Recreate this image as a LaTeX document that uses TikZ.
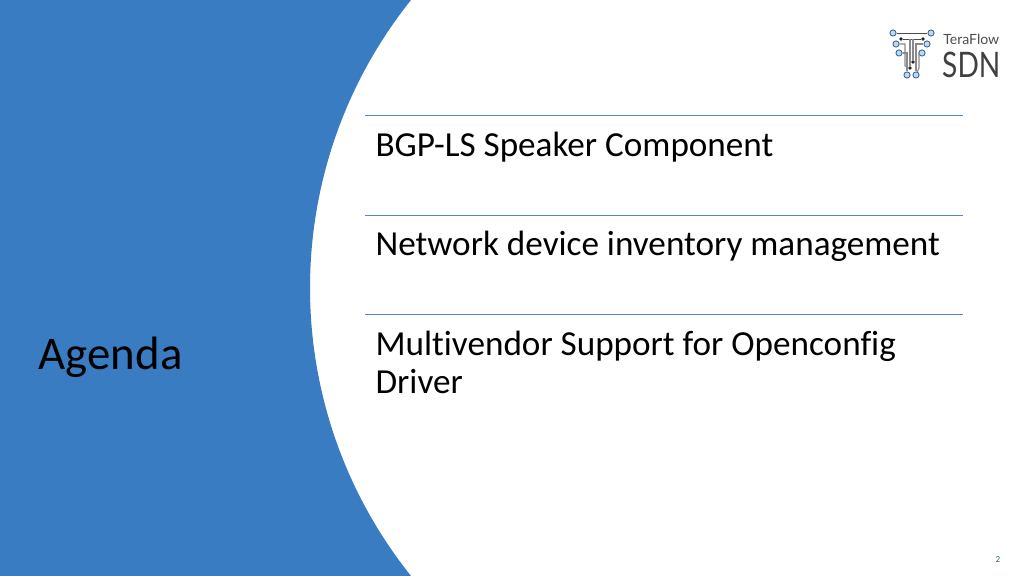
\documentclass[tikz,border=0pt]{standalone}
\usepackage{fontspec}
\setmainfont[Ligatures=CommonOff]{Carlito}
\newfontfamily\logofont{Lato}
\definecolor{slideblue}{HTML}{3A7CC1}
\definecolor{rulegrey}{HTML}{8A8A8A}
\tikzset{
	item/.style={anchor=north west, inner sep=0pt, align=left, text=black, font=\fontsize{25}{27}\selectfont},
	sep/.style={draw=slideblue!90, line width=0.7pt},
	pad/.style={circle, draw=slideblue!80!black, fill=slideblue!30, line width=0.6pt, minimum size=4.4pt, inner sep=0pt},
	via/.style={circle, fill=black!85, minimum size=2.8pt, inner sep=0pt},
	trace/.style={draw=rulegrey, line width=0.8pt},
	thin trace/.style={draw=black!70, line width=0.6pt},
}
\begin{document}
\begin{tikzpicture}[x=0.025cm, y=-0.025cm]
	\useasboundingbox (0,0) rectangle (1024,576);
	\fill[slideblue] (0,0) -- (411,0) arc[start angle=218.66, end angle=141.34, radius=461] -- (0,576) -- cycle;

	\node[anchor=base west, inner sep=0pt, text=black, font=\fontsize{33.3}{40}\selectfont] (agenda) at (38.5,369) {Agenda};

	\coordinate (s1a) at (365,115);
	\coordinate (s1b) at (963,115);
	\coordinate (s2a) at (365,215);
	\coordinate (s2b) at (963,215);
	\coordinate (s3a) at (365,314);
	\coordinate (s3b) at (963,314);
	\draw[sep] (s1a) to (s1b);
	\draw[sep] (s2a) to (s2b);
	\draw[sep] (s3a) to (s3b);

	\node[item] (bgp) at (375.3,132) {BGP-LS Speaker Component};
	\node[item] (inv) at (375.3,231) {Network device inventory management};
	\node[item] (ocf) at (375.3,331) {Multivendor Support for Openconfig\\Driver};

	% logo
	\node[pad] (p1) at (893,33) {};
	\node[pad] (p2) at (931,33) {};
	\node[pad] (p3) at (896,44) {};
	\node[pad] (p4) at (927,44) {};
	\node[pad] (p5) at (899,53) {};
	\node[pad] (p6) at (922,53) {};
	\node[pad] (p7) at (907,75) {};
	\node[pad] (p8) at (916,75) {};
	\node[via] (v1) at (901,39) {};
	\node[via] (v2) at (923,39) {};
	\node[via] (v3) at (913,62) {};
	\node[via] (v4) at (910,68) {};
	\draw[thin trace] (p1) to (p2);
	\draw[thin trace] (v1) to (v2);
	\draw[trace] (p3) -- (905,44) -- (905,66) -- (v4);
	\draw[trace] (p5) -- (907,53) -- (p7);
	\draw[trace] (p4) -- (916,44) -- (p8);
	\draw[trace] (p6) -- (919,53) -- (919,68) -- (p8);
	\draw[trace] (910,39) -- (v4);
	\draw[trace] (913,39) -- (v3);
	\node[anchor=base west, inner sep=0pt, text=black!70, font=\logofont\fontsize{10}{12}\selectfont] (tf) at (943,45) {TeraFlow};
	\node[anchor=base west, inner sep=0pt, text=black!75, font=\logofont\fontsize{25}{30}\selectfont, xscale=0.8] (sdn) at (942,78) {SDN};

	\node[inner sep=0pt, text=slideblue!80!black, font=\fontsize{6.5}{8}\selectfont] (num) at (998,560) {2};
\end{tikzpicture}
\end{document}
